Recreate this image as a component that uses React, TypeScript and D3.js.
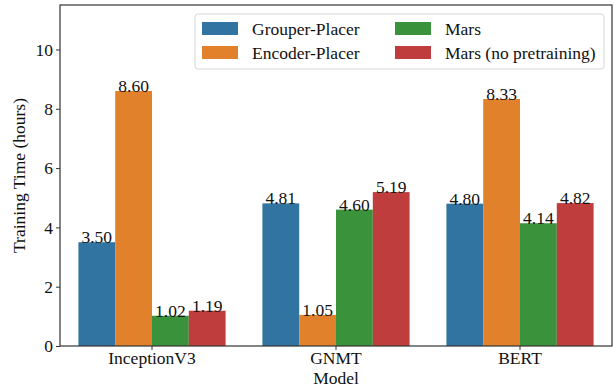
import React, { useRef, useEffect } from 'react';
import * as d3 from 'd3';

const models = ['InceptionV3', 'GNMT', 'BERT'];
const methods = ['Grouper-Placer', 'Encoder-Placer', 'Mars', 'Mars (no pretraining)'];
const grouperPlacer = [3.5, 4.81, 4.8];
const encoderPlacer = [8.6, 1.05, 8.33];
const mars = [1.02, 4.6, 4.14];
const marsNoPretrain = [1.19, 5.19, 4.82];
const yTicks = [0, 2, 4, 6, 8, 10];
const colors = ['#3274a1', '#e1812c', '#3a923a', '#c03d3e'];

const W = 615;
const H = 389;
const margin = { top: 5, right: 3, bottom: 43, left: 60 };
const FONT = 'Liberation Serif, Times New Roman, serif';
const FS = 17.5;

function App() {
  const ref = useRef<SVGSVGElement>(null);

  useEffect(() => {
    const svg = d3.select(ref.current);
    svg.selectAll('*').remove();
    const series = [grouperPlacer, encoderPlacer, mars, marsNoPretrain];
    const iw = W - margin.left - margin.right;
    const ih = H - margin.top - margin.bottom;

    const x0 = d3.scaleBand().domain(models).range([0, iw]).paddingInner(0.2).paddingOuter(0.1);
    const x1 = d3.scaleBand().domain(methods).range([0, x0.bandwidth()]);
    const y = d3.scaleLinear().domain([0, 11.5]).range([ih, 0]);

    const g = svg.append('g').attr('transform', `translate(${margin.left},${margin.top})`);

    models.forEach((m, i) => {
      const grp = g.append('g').attr('transform', `translate(${x0(m)},0)`);
      methods.forEach((s, j) => {
        const v = series[j][i];
        grp.append('rect')
          .attr('x', x1(s)!)
          .attr('y', y(v))
          .attr('width', x1.bandwidth())
          .attr('height', ih - y(v))
          .attr('fill', colors[j]);
        grp.append('text')
          .attr('x', x1(s)! + x1.bandwidth() / 2)
          .attr('y', y(v) + 1)
          .attr('text-anchor', 'middle')
          .style('font-family', FONT)
          .style('font-size', FS + 'px')
          .attr('fill', '#111')
          .text(v.toFixed(2));
      });
    });

    const yAxis = g.append('g').call(d3.axisLeft(y).tickValues(yTicks).tickSize(4).tickPadding(3));
    yAxis.select('.domain').remove();
    yAxis.selectAll('text').style('font-family', FONT).style('font-size', FS + 'px').attr('fill', '#111');
    yAxis.selectAll('line').attr('stroke', '#333');

    const xAxis = g.append('g').attr('transform', `translate(0,${ih})`)
      .call(d3.axisBottom(x0).tickSize(4).tickPadding(2));
    xAxis.select('.domain').remove();
    xAxis.selectAll('text').style('font-family', FONT).style('font-size', FS + 'px').attr('fill', '#111');
    xAxis.selectAll('line').attr('stroke', '#333');

    g.append('rect')
      .attr('width', iw).attr('height', ih)
      .attr('fill', 'none').attr('stroke', '#333').attr('stroke-width', 1.2);

    g.append('text')
      .attr('transform', `translate(${-35},${ih / 2}) rotate(-90)`)
      .attr('text-anchor', 'middle')
      .style('font-family', FONT).style('font-size', FS + 'px').attr('fill', '#111')
      .text('Training Time (hours)');

    g.append('text')
      .attr('x', iw / 2).attr('y', ih + 38)
      .attr('text-anchor', 'middle')
      .style('font-family', FONT).style('font-size', FS + 'px').attr('fill', '#111')
      .text('Model');

    // legend
    const lg = svg.append('g').attr('transform', 'translate(195,14)');
    lg.append('rect')
      .attr('width', 409).attr('height', 55).attr('rx', 3)
      .attr('fill', 'white').attr('fill-opacity', 0.8)
      .attr('stroke', '#d6d6d6');
    methods.forEach((s, j) => {
      const col = Math.floor(j / 2);
      const row = j % 2;
      const lx = 7 + col * 193;
      const ly = 14.5 + row * 24;
      lg.append('rect')
        .attr('x', lx).attr('y', ly - 6.5)
        .attr('width', 36).attr('height', 13)
        .attr('fill', colors[j]);
      lg.append('text')
        .attr('x', lx + 50).attr('y', ly + 6)
        .style('font-family', FONT).style('font-size', FS + 'px').attr('fill', '#111')
        .text(s);
    });
  }, []);

  return (
    <svg ref={ref} width={W} height={H}
      style={{ position: 'absolute', left: 0, top: 0, background: 'white' }} />
  );
}

export default App;
